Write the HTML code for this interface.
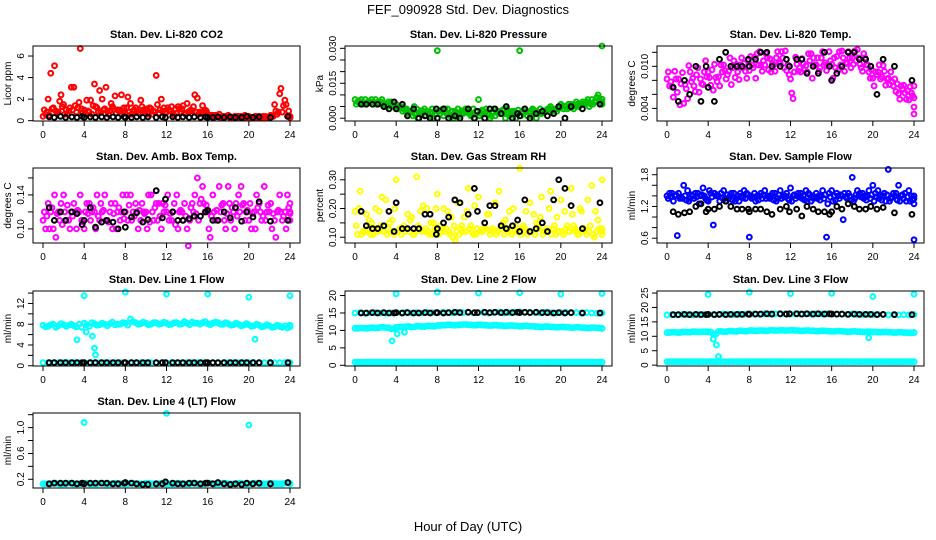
<!DOCTYPE html>
<html><head><meta charset="utf-8"><style>
html,body{margin:0;padding:0;background:#fff}
svg{display:block;font-family:"Liberation Sans",sans-serif}
</style></head><body>
<svg id="chart" width="936" height="540" viewBox="0 0 936 540" xmlns="http://www.w3.org/2000/svg">
<text x="468" y="14" text-anchor="middle" font-size="13">FEF_090928  Std. Dev. Diagnostics</text>
<text x="468" y="531" text-anchor="middle" font-size="13">Hour of Day (UTC)</text>
</svg>
<script>
const xTicks=[0,4,8,12,16,20,24];
const blackHours=[0.6,1.1,1.7,2.2,2.8,3.3,3.8,4.0,4.6,5.1,5.7,6.2,6.8,7.3,7.9,8.0,8.6,9.1,9.7,10.2,11.0,11.6,11.9,12.6,13.1,13.6,14.2,14.7,15.3,15.8,16.0,16.5,17.0,17.6,18.2,18.7,19.3,19.8,20.4,21.0,22.1,23.8];

const co2A=[0.4,2.0,1.2,0.8,1.5,0.9,3.1,1.7,1.0,0.8,3.4,2.8,1.1,0.9,2.3,1.0,0.7,1.6,1.2,1.9,0.9,1.1,4.2,2.0,0.8,1.3,0.7,1.1,1.6,0.9,2.1,1.4,0.6,0.5,0.4,0.4,0.5,0.3,0.4,0.3,0.4,0.3,0.4,0.3,0.3,1.5,2.5,1.9,0.3];
const co2B=[1.0,0.5,5.1,1.8,0.6,1.2,1.4,6.7,0.7,1.9,1.3,0.8,3.1,1.6,0.7,2.4,1.2,0.6,0.9,1.3,1.1,0.6,1.5,0.9,1.2,0.7,1.3,1.4,0.8,1.3,0.6,0.8,0.5,0.3,0.6,0.3,0.3,0.4,0.3,0.5,0.3,0.4,0.3,0.4,0.5,0.9,3.0,1.5,0.4];
const co2C=[0.6,4.4,0.9,2.4,1.0,3.1,0.8,1.1,1.9,0.6,1.2,2.0,0.9,1.3,1.0,0.8,2.2,0.9,0.7,1.0,0.6,0.9,0.7,1.2,1.0,0.5,1.1,0.7,0.9,2.4,0.8,1.0,0.4,0.5,0.3,0.4,0.3,0.3,0.4,0.3,0.3,0.4,0.3,0.3,0.4,0.6,0.8,0.4,0.3];
const co2D=[0.8,1.1,0.7,1.3,0.6,1.0,1.2,0.7,0.9,1.4,0.8,1.0,0.6,1.1,0.9,1.2,0.8,1.0,0.7,0.9,1.2,0.8,1.0,0.7,0.9,1.1,0.8,0.6,1.0,0.8,0.7,0.9,0.5,0.4,0.3,0.4,0.3,0.4,0.3,0.4,0.3,0.3,0.4,0.3,0.4,0.8,1.4,0.9,0.4];
const co2Black=[0.35,0.3,0.4,0.3,0.35,0.3,0.4,0.3,0.35,0.3,0.35,0.3,0.35,0.3,0.35,0.3,0.3,0.35,0.3,0.35,0.3,0.35,0.3,0.35,0.3,0.35,0.3,0.35,0.3,0.35,0.3,0.3,0.35,0.3,0.35,0.3,0.3,0.4,0.3,0.35,0.3,0.4];

const presA=[0.008,0.007,0.008,0.007,0.008,0.007,0.006,0.007,0.006,0.005,0.004,0.003,0.004,0.002,0.003,0.004,0.029,0.003,0.004,0.003,0.004,0.002,0.003,0.004,0.008,0.003,0.002,0.004,0.003,0.004,0.001,0.003,0.029,0.004,0.002,0.003,0.004,0.003,0.005,0.004,0.006,0.005,0.006,0.007,0.006,0.007,0.008,0.009,0.031];
const presB=[0.006,0.008,0.006,0.008,0.006,0.008,0.005,0.006,0.004,0.003,0.002,0.001,0.000,0.003,0.002,0.000,0.003,0.001,0.002,0.000,0.001,0.003,0.002,0.000,0.001,0.002,0.000,0.001,0.002,0.000,0.002,0.000,0.001,0.003,0.001,0.000,0.002,0.003,0.004,0.003,0.005,0.004,0.005,0.006,0.007,0.008,0.006,0.010,0.007];
const presC=[0.007,0.006,0.007,0.006,0.007,0.006,0.007,0.005,0.005,0.004,0.003,0.005,0.002,0.004,0.001,0.003,0.002,0.004,0.001,0.003,0.002,0.004,0.001,0.003,0.002,0.004,0.001,0.003,0.002,0.004,0.003,0.002,0.003,0.001,0.004,0.002,0.003,0.004,0.003,0.004,0.004,0.006,0.004,0.005,0.006,0.005,0.007,0.008,0.006];
const presD=[0.0075,0.0065,0.0072,0.0068,0.0062,0.0058,0.0055,0.0048,0.0042,0.0035,0.0025,0.0015,0.0032,0.0012,0.0025,0.0018,0.0035,0.0022,0.0028,0.0015,0.0032,0.0025,0.0012,0.0028,0.0035,0.0015,0.0028,0.0022,0.0035,0.0018,0.0025,0.0035,0.0022,0.0028,0.0035,0.0025,0.0032,0.0042,0.0035,0.0048,0.0052,0.0045,0.0058,0.0055,0.0065,0.0062,0.0072,0.0068,0.0082];
const presBlack=[0.006,0.006,0.006,0.006,0.005,0.004,0.007,0.004,0.006,0.001,0.004,0.000,0.001,0.000,0.004,0.000,0.004,0.000,0.001,0.000,0.004,0.000,0.003,0.000,0.004,0.004,0.002,0.005,0.000,0.002,0.001,0.004,0.000,0.002,0.003,0.001,0.002,0.005,0.000,0.005,0.004,0.006];

const tempA=[0.0082,0.0071,0.0063,0.0091,0.0054,0.0083,0.0098,0.0074,0.0092,0.0066,0.0085,0.0102,0.0093,0.0108,0.0081,0.0104,0.0094,0.0113,0.0121,0.0102,0.0111,0.0093,0.0104,0.0122,0.0082,0.0113,0.0092,0.0101,0.0118,0.0102,0.0112,0.0094,0.0103,0.0114,0.0122,0.0104,0.0112,0.0124,0.0093,0.0102,0.0083,0.0092,0.0101,0.0083,0.0072,0.0061,0.0073,0.0052,0.0042];
const tempB=[0.0092,0.0056,0.0082,0.0047,0.0101,0.0072,0.0063,0.0092,0.0084,0.0103,0.0072,0.0094,0.0112,0.0084,0.0102,0.0093,0.0114,0.0083,0.0102,0.0118,0.0092,0.0112,0.0121,0.0094,0.0062,0.0103,0.0111,0.0092,0.0083,0.0112,0.0121,0.0102,0.0083,0.0094,0.0112,0.0121,0.0103,0.0112,0.0118,0.0092,0.0072,0.0102,0.0093,0.0074,0.0082,0.0053,0.0062,0.0071,0.0032];
const tempC=[0.0072,0.0093,0.0045,0.0074,0.0092,0.0064,0.0082,0.0108,0.0073,0.0084,0.0102,0.0082,0.0074,0.0103,0.0112,0.0083,0.0102,0.0118,0.0093,0.0112,0.0104,0.0121,0.0112,0.0102,0.0054,0.0093,0.0104,0.0118,0.0112,0.0093,0.0102,0.0121,0.0112,0.0121,0.0093,0.0112,0.0122,0.0103,0.0112,0.0083,0.0092,0.0082,0.0073,0.0092,0.0064,0.0072,0.0053,0.0062,0.0072];
const tempD=[0.0078,0.0082,0.0075,0.0068,0.0078,0.0088,0.0075,0.0085,0.0095,0.0078,0.0092,0.0088,0.0098,0.0092,0.0098,0.0108,0.0098,0.0102,0.0108,0.0095,0.0102,0.0105,0.0098,0.0088,0.0092,0.0098,0.0095,0.0108,0.0102,0.0098,0.0105,0.0108,0.0098,0.0102,0.0105,0.0098,0.0108,0.0098,0.0102,0.0095,0.0088,0.0085,0.0082,0.0078,0.0075,0.0068,0.0065,0.0058,0.0055];
const tempBlack=[0.007,0.005,0.008,0.006,0.010,0.005,0.010,0.007,0.005,0.011,0.012,0.010,0.010,0.010,0.011,0.010,0.011,0.012,0.012,0.010,0.010,0.011,0.010,0.011,0.011,0.009,0.010,0.009,0.012,0.010,0.008,0.009,0.010,0.012,0.012,0.011,0.011,0.010,0.006,0.011,0.010,0.008];

const ambA=[0.11,0.13,0.10,0.12,0.14,0.11,0.13,0.12,0.10,0.13,0.12,0.11,0.14,0.12,0.13,0.11,0.12,0.14,0.13,0.11,0.12,0.14,0.13,0.10,0.12,0.11,0.14,0.12,0.10,0.13,0.16,0.15,0.12,0.14,0.11,0.13,0.15,0.12,0.14,0.13,0.11,0.12,0.13,0.15,0.12,0.11,0.14,0.12,0.13];
const ambB=[0.12,0.10,0.14,0.11,0.12,0.10,0.12,0.14,0.12,0.11,0.10,0.13,0.11,0.13,0.10,0.12,0.14,0.11,0.12,0.13,0.10,0.12,0.11,0.13,0.14,0.12,0.10,0.11,0.08,0.12,0.11,0.13,0.10,0.12,0.15,0.11,0.13,0.10,0.12,0.11,0.13,0.10,0.12,0.11,0.13,0.09,0.12,0.10,0.12];
const ambC=[0.10,0.12,0.09,0.13,0.11,0.12,0.10,0.11,0.13,0.12,0.14,0.12,0.11,0.10,0.12,0.14,0.11,0.12,0.10,0.12,0.14,0.11,0.13,0.12,0.11,0.13,0.12,0.13,0.11,0.14,0.13,0.12,0.09,0.11,0.12,0.10,0.11,0.13,0.15,0.12,0.10,0.14,0.11,0.12,0.10,0.12,0.11,0.14,0.11];
const ambD=[0.115,0.125,0.118,0.105,0.128,0.115,0.122,0.108,0.118,0.125,0.115,0.122,0.108,0.118,0.125,0.112,0.128,0.115,0.122,0.118,0.108,0.125,0.115,0.128,0.118,0.105,0.122,0.115,0.125,0.118,0.135,0.128,0.115,0.122,0.128,0.118,0.125,0.115,0.128,0.122,0.118,0.125,0.115,0.128,0.118,0.122,0.115,0.125,0.118];
const ambBlack=[0.125,0.11,0.12,0.11,0.12,0.118,0.105,0.11,0.125,0.102,0.108,0.11,0.108,0.10,0.12,0.102,0.114,0.119,0.108,0.111,0.145,0.113,0.135,0.12,0.11,0.11,0.112,0.115,0.115,0.12,0.122,0.11,0.11,0.12,0.113,0.125,0.109,0.12,0.114,0.132,0.109,0.11];

const rhA=[0.19,0.26,0.12,0.11,0.20,0.14,0.23,0.12,0.30,0.11,0.13,0.17,0.31,0.12,0.20,0.11,0.25,0.13,0.19,0.10,0.22,0.12,0.27,0.11,0.24,0.13,0.18,0.12,0.26,0.11,0.19,0.12,0.34,0.13,0.22,0.11,0.17,0.12,0.26,0.11,0.23,0.13,0.27,0.12,0.19,0.11,0.28,0.12,0.30];
const rhB=[0.14,0.11,0.18,0.15,0.12,0.24,0.11,0.16,0.12,0.13,0.18,0.11,0.14,0.21,0.12,0.15,0.11,0.20,0.12,0.14,0.11,0.17,0.13,0.21,0.12,0.15,0.11,0.22,0.13,0.16,0.12,0.14,0.11,0.19,0.12,0.15,0.24,0.13,0.11,0.17,0.12,0.14,0.18,0.11,0.13,0.23,0.11,0.16,0.12];
const rhC=[0.11,0.12,0.13,0.11,0.12,0.12,0.13,0.11,0.12,0.14,0.12,0.11,0.13,0.12,0.11,0.13,0.14,0.12,0.11,0.09,0.13,0.12,0.14,0.11,0.12,0.13,0.12,0.11,0.14,0.12,0.11,0.12,0.13,0.11,0.12,0.14,0.11,0.12,0.13,0.12,0.11,0.12,0.14,0.11,0.13,0.12,0.10,0.13,0.11];
const rhD=[0.20,0.12,0.16,0.13,0.19,0.12,0.15,0.20,0.13,0.12,0.16,0.12,0.19,0.13,0.15,0.20,0.12,0.13,0.17,0.12,0.14,0.19,0.12,0.13,0.12,0.18,0.13,0.12,0.15,0.13,0.20,0.12,0.14,0.12,0.18,0.13,0.12,0.20,0.14,0.12,0.19,0.12,0.13,0.20,0.12,0.14,0.19,0.12,0.13];
const rhBlack=[0.19,0.14,0.13,0.13,0.14,0.19,0.12,0.22,0.13,0.13,0.13,0.13,0.18,0.18,0.11,0.13,0.15,0.17,0.23,0.22,0.18,0.27,0.19,0.15,0.21,0.21,0.14,0.13,0.14,0.16,0.12,0.23,0.12,0.13,0.15,0.12,0.23,0.30,0.27,0.21,0.13,0.22];

const sfA=[1.4,1.45,0.65,1.35,1.5,1.4,1.45,1.55,1.3,0.85,1.4,1.5,1.35,1.45,1.3,1.5,0.62,1.45,1.4,1.5,1.35,1.45,1.5,1.4,1.55,1.35,1.45,1.5,1.3,1.45,1.4,0.62,1.5,1.45,1.4,1.35,1.75,1.5,1.45,1.4,1.6,1.5,1.4,1.9,1.45,1.6,1.35,1.5,0.57];
const sfB=[1.35,1.3,1.45,1.6,1.3,1.35,1.25,1.4,1.5,1.45,1.3,1.35,1.4,1.3,1.45,1.35,1.4,1.3,1.45,1.35,1.4,1.3,1.35,1.45,1.3,1.4,1.35,1.3,1.4,1.35,1.5,1.25,1.3,1.4,0.95,1.45,1.3,1.4,1.35,1.5,1.3,1.35,1.45,1.3,1.4,1.3,1.45,1.3,1.25];
const sfC=[1.45,1.4,1.35,1.4,1.35,1.45,1.4,1.35,1.45,1.4,1.45,1.3,1.45,1.35,1.4,1.45,1.35,1.4,1.35,1.4,1.45,1.35,1.4,1.35,1.4,1.45,1.4,1.45,1.35,1.4,1.35,1.45,1.4,1.35,1.45,1.4,1.35,1.45,1.4,1.35,1.45,1.4,1.3,1.35,1.45,1.4,1.3,1.4,1.35];
const sfD=[1.38,1.42,1.38,1.32,1.42,1.38,1.42,1.32,1.38,1.42,1.36,1.42,1.32,1.4,1.36,1.42,1.38,1.32,1.42,1.38,1.32,1.42,1.38,1.32,1.42,1.38,1.32,1.42,1.38,1.32,1.42,1.38,1.32,1.42,1.38,1.32,1.42,1.38,1.32,1.42,1.38,1.32,1.42,1.38,1.32,1.42,1.38,1.32,1.4];
const sfBlack=[1.1,1.05,1.08,1.1,1.2,1.25,1.1,1.15,1.15,1.2,1.3,1.2,1.15,1.15,1.15,1.1,1.15,1.15,1.1,1.05,1.15,1.2,1.1,1.15,1.02,1.2,1.15,1.1,1.1,1.05,1.1,1.2,1.15,1.25,1.2,1.15,1.15,1.2,1.15,1.18,1.08,1.05];

const outHours=[4,8,12,16,20,24];
const l1Band=[7.8,7.6,8.0,7.7,7.9,7.8,7.7,8.0,8.2,7.6,8.1,7.9,8.0,8.1,7.9,8.0,8.2,9.0,8.3,8.1,8.2,8.0,8.3,8.1,8.2,8.0,8.3,8.1,8.2,8.4,8.2,8.3,8.1,8.2,8.3,8.0,8.1,7.9,8.0,7.8,7.9,7.7,7.8,7.6,7.7,7.5,7.6,7.7,7.5];
const l1Band2=[7.5,7.9,7.4,8.1,7.6,8.0,7.5,7.4,7.9,8.3,7.8,8.2,7.7,8.4,8.0,8.3,7.8,8.5,8.0,8.4,7.9,8.3,8.0,8.4,7.9,8.3,8.0,8.5,7.9,8.2,8.0,8.5,7.9,8.4,8.0,8.3,7.8,8.2,7.7,8.1,7.6,8.0,7.5,7.9,7.4,7.8,7.4,7.3,7.8];
const l1Low=[0.6,0.6,0.6,0.6,0.6,0.6,0.6,0.6,0.6,0.6,0.6,0.6,0.6,0.6,0.6,0.6,0.6,0.6,0.6,0.6,0.6,0.6,0.6,0.6,0.6,0.6,0.6,0.6,0.6,0.6,0.6,0.6,0.6,0.6,0.6,0.6,0.6,0.6,0.6,0.6,0.6,0.6,0.6,0.6,0.6,0.6,0.6,0.6,0.6];
const l1Out=[13.5,14.2,13.8,13.8,13.2,13.5];
const l1DipHours=[3.3,4.2,4.8,5.0,5.1,20.6];
const l1Dip=[5.0,6.5,5.7,3.4,2.1,5.1];
const l1Black=[0.6,0.6,0.6,0.6,0.6,0.6,0.6,0.6,0.6,0.6,0.6,0.6,0.6,0.6,0.6,0.6,0.6,0.6,0.6,0.6,0.6,0.6,0.6,0.6,0.6,0.6,0.6,0.6,0.6,0.6,0.6,0.6,0.6,0.6,0.6,0.6,0.6,0.6,0.6,0.6,0.6,0.6];

const l2High=[15,15.1,14.9,15,15.1,15,14.9,15,15.1,15,15.2,15,15.1,15,15.2,15.1,15,15.2,15.1,15,15.2,15.1,15.2,15,15.1,15.2,15,15.1,15.2,15,15.1,15.2,15.3,15.1,15.2,15.1,15,15.2,15.1,15,15.1,15.2,15,15.1,15,15.1,15,14.9,15];
const l2Mid=[10.6,10.7,10.6,10.8,10.7,10.9,10.8,10.5,10.9,11.0,11.1,11.0,11.2,11.1,11.3,11.2,11.4,11.5,11.6,11.5,11.6,11.7,11.6,11.5,11.6,11.5,11.4,11.5,11.4,11.3,11.4,11.3,11.2,11.3,11.2,11.1,11.0,11.1,11.0,10.9,11.0,10.9,10.8,10.9,10.8,10.7,10.8,10.7,10.6];
const l2Low=[0.9,0.9,0.9,0.9,0.9,0.9,0.9,0.9,0.9,0.9,0.9,0.9,0.9,0.9,0.9,0.9,0.9,0.9,0.9,0.9,0.9,0.9,0.9,0.9,0.9,0.9,0.9,0.9,0.9,0.9,0.9,0.9,0.9,0.9,0.9,0.9,0.9,0.9,0.9,0.9,0.9,0.9,0.9,0.9,0.9,0.9,0.9,0.9,0.9];
const l2Out=[20.5,21,20.7,20.8,20.4,20.6];
const l2DipHours=[3.6,4.1,4.8];
const l2Dip=[7.0,9.0,9.5];
const l2Black=[15,15,15.1,15,15.1,15,15,15.1,15,15.1,15,15,15.1,15,15.1,15.1,15,15.1,15.2,15.1,15.2,15.1,15.1,15.2,15.1,15.2,15.1,15.2,15.1,15.2,15.1,15.2,15.1,15.2,15.1,15.1,15.0,15.1,15.0,15.1,15.0,15.0];

const l3High=[17.4,17.5,17.4,17.6,17.5,17.4,17.5,17.6,17.5,17.6,17.5,17.7,17.6,17.5,17.7,17.6,17.8,17.7,17.6,17.8,17.7,17.8,17.7,17.8,17.7,17.8,17.7,17.8,17.7,17.8,17.7,17.8,17.7,17.6,17.7,17.6,17.7,17.6,17.5,17.6,17.5,17.6,17.5,17.4,17.5,17.4,17.5,17.4,17.5];
const l3Mid=[11.3,11.4,11.3,11.5,11.4,11.6,11.5,11.6,11.5,10.8,11.7,11.6,11.8,11.7,11.9,11.8,12.0,11.9,12.0,11.9,12.1,12.0,12.1,12.0,12.1,12.0,11.9,12.0,11.9,11.8,11.9,11.8,11.7,11.8,11.7,11.6,11.7,11.6,11.5,11.6,11.5,11.4,11.5,11.4,11.3,11.4,11.3,11.2,11.3];
const l3Low=[1.2,1.2,1.2,1.2,1.2,1.2,1.2,1.2,1.2,1.2,1.2,1.2,1.2,1.2,1.2,1.2,1.2,1.2,1.2,1.2,1.2,1.2,1.2,1.2,1.2,1.2,1.2,1.2,1.2,1.2,1.2,1.2,1.2,1.2,1.2,1.2,1.2,1.2,1.2,1.2,1.2,1.2,1.2,1.2,1.2,1.2,1.2,1.2,1.2];
const l3Out=[24.5,25.3,24.8,24.9,23.8,24.6];
const l3DipHours=[4.5,4.8,5.0,19.6];
const l3Dip=[9.0,7.0,3.0,9.5];
const l3Black=[17.5,17.5,17.6,17.5,17.6,17.5,17.5,17.6,17.5,17.6,17.5,17.6,17.6,17.6,17.7,17.6,17.7,17.7,17.8,17.7,17.8,17.7,17.8,17.8,17.7,17.8,17.7,17.8,17.7,17.8,17.7,17.7,17.7,17.6,17.7,17.6,17.6,17.6,17.5,17.6,17.5,17.5];

const l4Band=[0.13,0.13,0.14,0.13,0.13,0.14,0.13,0.13,0.14,0.13,0.13,0.14,0.13,0.13,0.14,0.13,0.13,0.14,0.13,0.13,0.14,0.13,0.13,0.14,0.13,0.13,0.14,0.13,0.13,0.14,0.13,0.13,0.14,0.13,0.13,0.14,0.13,0.13,0.14,0.13,0.13,0.14,0.13,0.13,0.14,0.13,0.13,0.14,0.13];
const l4OutHours=[4,12,20];
const l4Out=[1.08,1.22,1.04];
const l4Black=[0.13,0.14,0.14,0.14,0.14,0.13,0.14,0.13,0.14,0.14,0.14,0.14,0.13,0.13,0.14,0.15,0.14,0.13,0.12,0.12,0.13,0.13,0.16,0.14,0.13,0.13,0.14,0.14,0.13,0.14,0.14,0.13,0.15,0.13,0.12,0.13,0.12,0.14,0.13,0.14,0.13,0.15];

const NS="http://www.w3.org/2000/svg";
const svg=document.getElementById('chart');
function mk(tag,attrs,parent){const e=document.createElementNS(NS,tag);for(const k in attrs)e.setAttribute(k,attrs[k]);(parent||svg).appendChild(e);return e;}
const colLeft=[33,345,657], rowTop=[46,168,291,413], boxW=267, boxH=75;

function panel(id,col,row,title,ylab,yMin,yMax,yTicks,yLabels,series){
  const g=mk('g',{});
  
  
  const L=colLeft[col],T=rowTop[row],B=T+boxH;
  const xs=h=>L+10+h*(247/24);
  const ys=v=>B-(v-yMin)/(yMax-yMin)*boxH;
  const t=mk('text',{x:L+boxW/2,y:T-8,'text-anchor':'middle','font-size':11,'font-weight':'bold'},g);
  t.textContent=title;
  
  
  const yl=mk('text',{x:0,y:0,'text-anchor':'middle','font-size':10,transform:`translate(${L-22},${(T+B)/2}) rotate(-90)`},g);
  yl.textContent=ylab;
  
  
  series.forEach(s=>{
    const sg=mk('g',{fill:'none',stroke:s.color,'stroke-width':2},g);
    
    
    s.values.forEach((v,i)=>{
      const h=s.hours?s.hours[i]:(i*24/(s.values.length-1)+(s.off||0));
      const c=mk('circle',{cx:xs(Math.min(24,h)),cy:ys(v),r:2.4},sg);
      
      
    });
  });
  const box=mk('rect',{x:L,y:T,width:boxW,height:boxH,fill:'none',stroke:'#000','stroke-width':1},g);
  
  
  xTicks.forEach(h=>{
    mk('line',{x1:xs(h),x2:xs(h),y1:B,y2:B+5,stroke:'#000'},g);
    const tx=mk('text',{x:xs(h),y:B+17,'text-anchor':'middle','font-size':10},g);
    tx.textContent=h;
    
    
  });
  yTicks.forEach(v=>mk('line',{x1:L-5,x2:L,y1:ys(v),y2:ys(v),stroke:'#000'},g));
  yLabels.forEach(v=>{
    const tx=mk('text',{x:0,y:0,'text-anchor':'middle','font-size':10,transform:`translate(${L-9},${ys(+v)}) rotate(-90)`},g);
    tx.textContent=v;
    
    
  });
}
const R='#ff0000',G='#00c000',M='#ff00ff',Y='#ffff00',Bl='#0000ff',C='#00ffff',K='#000000';
panel('co2',0,0,'Stan. Dev. Li-820 CO2','Licor ppm',-0.03,6.93,[0,2,4,6],['0','2','4','6'],
 [{name:'a',values:co2A,color:R},{name:'b',values:co2B,color:R,off:0.12},{name:'c',values:co2C,color:R,off:0.25},{name:'d',values:co2D,color:R,off:0.37},{name:'black',values:co2Black,hours:blackHours,color:K}]);
panel('pressure',1,0,'Stan. Dev. Li-820 Pressure','kPa',-0.0012,0.031,[0,0.005,0.01,0.015,0.02,0.025,0.03],['0.000','0.015','0.030'],
 [{name:'a',values:presA,color:G},{name:'b',values:presB,color:G,off:0.12},{name:'c',values:presC,color:G,off:0.25},{name:'d',values:presD,color:G,off:0.37},{name:'black',values:presBlack,hours:blackHours,color:K}]);
panel('temp',2,0,'Stan. Dev. Li-820 Temp.','degrees C',0.0022,0.0129,[0.004,0.006,0.008,0.010,0.012],['0.004','0.010'],
 [{name:'a',values:tempA,color:M},{name:'b',values:tempB,color:M,off:0.12},{name:'c',values:tempC,color:M,off:0.25},{name:'d',values:tempD,color:M,off:0.37},{name:'black',values:tempBlack,hours:blackHours,color:K}]);
panel('ambbox',0,1,'Stan. Dev. Amb. Box Temp.','degrees C',0.0834,0.1717,[0.10,0.12,0.14,0.16],['0.10','0.14'],
 [{name:'a',values:ambA,color:M},{name:'b',values:ambB,color:M,off:0.12},{name:'c',values:ambC,color:M,off:0.25},{name:'d',values:ambD,color:M,off:0.37},{name:'black',values:ambBlack,hours:blackHours,color:K}]);
panel('rh',1,1,'Stan. Dev. Gas Stream RH','percent',0.08,0.341,[0.10,0.15,0.20,0.25,0.30],['0.10','0.20','0.30'],
 [{name:'a',values:rhA,color:Y},{name:'b',values:rhB,color:Y,off:0.12},{name:'c',values:rhC,color:Y,off:0.25},{name:'d',values:rhD,color:Y,off:0.37},{name:'black',values:rhBlack,hours:blackHours,color:K}]);
panel('sampleflow',2,1,'Stan. Dev. Sample Flow','ml/min',0.509,1.927,[0.6,0.8,1.0,1.2,1.4,1.6,1.8],['0.6','1.2','1.8'],
 [{name:'a',values:sfA,color:Bl},{name:'b',values:sfB,color:Bl,off:0.12},{name:'c',values:sfC,color:Bl,off:0.25},{name:'d',values:sfD,color:Bl,off:0.37},{name:'black',values:sfBlack,hours:blackHours,color:K}]);
panel('line1',0,2,'Stan. Dev. Line 1 Flow','ml/min',-0.05,14.4,[0,2,4,6,8,10,12,14],['0','4','8','12'],
 [{name:'band',values:l1Band,color:C},{name:'band2',values:l1Band2,color:C,off:0.25},{name:'low',values:l1Low,color:C},{name:'out',values:l1Out,hours:outHours,color:C},{name:'dip',values:l1Dip,hours:l1DipHours,color:C},{name:'black',values:l1Black,hours:blackHours,color:K}]);
panel('line2',1,2,'Stan. Dev. Line 2 Flow','ml/min',-0.2,21.3,[0,5,10,15,20],['0','5','10','15','20'],
 [{name:'high',values:l2High,color:C},{name:'mid',values:l2Mid,color:C},{name:'mid2',values:l2Mid,color:C,off:0.25},{name:'low',values:l2Low,color:C},{name:'low2',values:l2Low,color:C,off:0.25},{name:'out',values:l2Out,hours:outHours,color:C},{name:'dip',values:l2Dip,hours:l2DipHours,color:C},{name:'black',values:l2Black,hours:blackHours,color:K}]);
panel('line3',2,2,'Stan. Dev. Line 3 Flow','ml/min',-0.3,25.7,[0,5,10,15,20,25],['0','5','10','15','20','25'],
 [{name:'high',values:l3High,color:C},{name:'mid',values:l3Mid,color:C},{name:'mid2',values:l3Mid,color:C,off:0.25},{name:'low',values:l3Low,color:C},{name:'low2',values:l3Low,color:C,off:0.25},{name:'out',values:l3Out,hours:outHours,color:C},{name:'dip',values:l3Dip,hours:l3DipHours,color:C},{name:'black',values:l3Black,hours:blackHours,color:K}]);
panel('line4',0,3,'Stan. Dev. Line 4 (LT) Flow','ml/min',0.065,1.226,[0.2,0.4,0.6,0.8,1.0,1.2],['0.2','0.6','1.0'],
 [{name:'band',values:l4Band,color:C},{name:'band2',values:l4Band,color:C,off:0.25},{name:'out',values:l4Out,hours:l4OutHours,color:C},{name:'black',values:l4Black,hours:blackHours,color:K}]);
</script>
</body></html>
